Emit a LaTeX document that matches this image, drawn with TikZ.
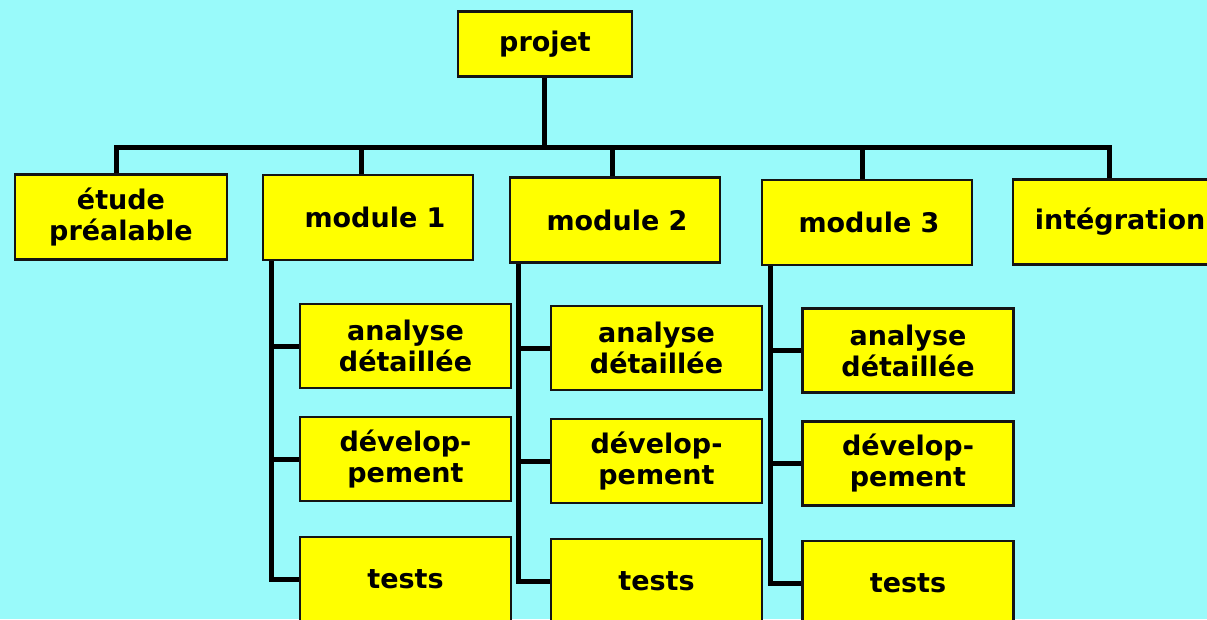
\documentclass[tikz,border=0pt]{standalone}
\usepackage{fontspec}
\setmainfont{DejaVu Sans}
\definecolor{bgcyan}{RGB}{153,250,250}
\definecolor{boxyellow}{RGB}{255,255,0}
\definecolor{edge}{RGB}{20,20,20}
\begin{document}
\begin{tikzpicture}[x=1pt,y=-1pt,
  box/.style={draw=edge,line width=2.5pt,fill=boxyellow,rectangle,inner sep=0pt,
    align=center,font=\fontsize{27}{31}\selectfont\bfseries,text=black},
  wide/.style={box,minimum width=210pt,minimum height=85pt},
  sub/.style={wide,minimum width=211pt,minimum height=84pt},
  conn/.style={line width=5pt,draw=black}]
\useasboundingbox (0,0) rectangle (1207,619);
\fill[bgcyan] (0,0) rectangle (1207,619);
\clip (0,0) rectangle (1207,619);
% top
\node[box,minimum width=174pt,minimum height=65pt] (projet) at (545,44) {projet};
\node[wide,minimum width=212pt] (etude) at (121,217) {étude\\préalable};
\node[wide] (m1) at (368,217.5) {\hspace*{14pt}module 1};
\node[wide] (m2) at (615,220) {\hspace*{4pt}module 2};
\node[wide] (m3) at (867,222.5) {\hspace*{4pt}module 3};
\node[wide,minimum width=202pt] (integ) at (1114,222) {\hspace*{12pt}intégration};
% subs module 1
\node[sub] (a1) at (405.5,346) {analyse\\détaillée};
\node[sub] (d1) at (405.5,459) {dévelop-\\pement};
\node[sub] (t1) at (405.5,579) {tests};
% subs module 2
\node[sub] (a2) at (656.5,348) {analyse\\détaillée};
\node[sub] (d2) at (656.5,461) {dévelop-\\pement};
\node[sub] (t2) at (656.5,581) {tests};
% subs module 3
\node[sub] (a3) at (908,350.5) {analyse\\détaillée};
\node[sub] (d3) at (908,463.5) {dévelop-\\pement};
\node[sub] (t3) at (908,583) {tests};
% top connectors
\coordinate (bar) at (0,147);
\draw[conn] ([xshift=-1pt]projet.south) -- ([xshift=-1pt]projet.south |- bar);
\draw[conn,line cap=rect] ([xshift=-5pt]etude.north |- bar) -- ([xshift=-5pt]integ.north |- bar);
\draw[conn] ([xshift=-5pt]etude.north |- bar) -- ([xshift=-5pt]etude.north);
\draw[conn] ([xshift=-7pt]m1.north |- bar) -- ([xshift=-7pt]m1.north);
\draw[conn] ([xshift=-3pt]m2.north |- bar) -- ([xshift=-3pt]m2.north);
\draw[conn] ([xshift=-5pt]m3.north |- bar) -- ([xshift=-5pt]m3.north);
\draw[conn] ([xshift=-5pt]integ.north |- bar) -- ([xshift=-5pt]integ.north);
% sub connectors
\foreach \m/\a/\d/\t in {m1/a1/d1/t1, m2/a2/d2/t2, m3/a3/d3/t3}{
  \coordinate (sp) at ([xshift=10pt]\m.south west);
  \draw[conn,line join=miter] (sp) |- (\t.west);
  \draw[conn] (\a.west) -- (\a.west -| sp);
  \draw[conn] (\d.west) -- (\d.west -| sp);
}
\end{tikzpicture}
\end{document}
